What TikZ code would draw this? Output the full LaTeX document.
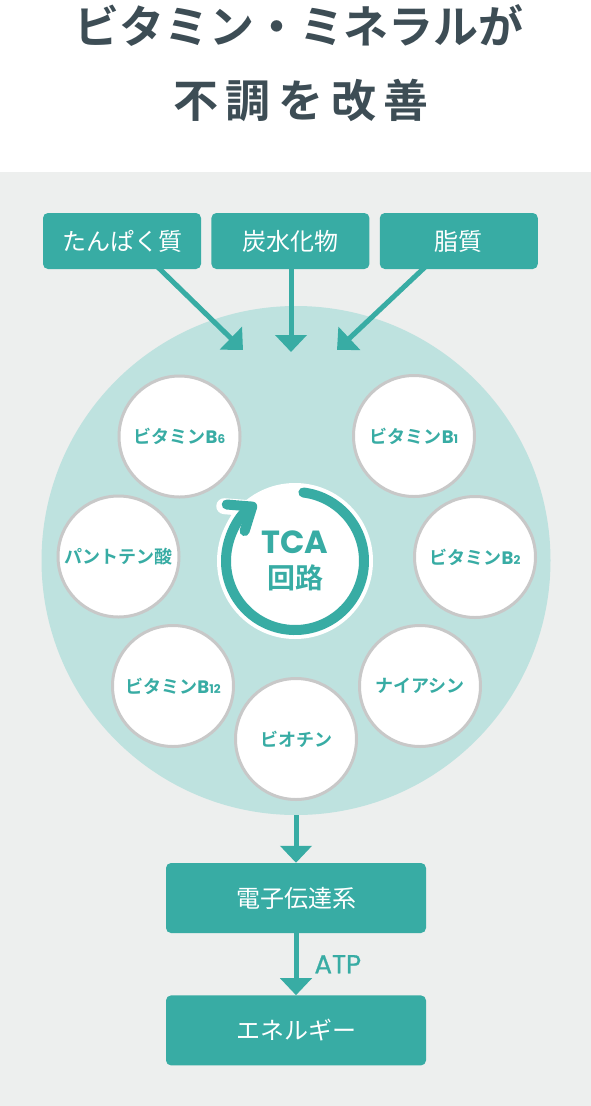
\documentclass[tikz,border=0pt]{standalone}
\usepackage{fontspec}
\setmainfont{Noto Sans CJK JP}[BoldFont={Noto Sans CJK JP Bold}]
\newfontfamily\latin{Poppins}
\usetikzlibrary{arrows.meta,positioning}
\definecolor{Ink}{HTML}{3D4D55}
\definecolor{Teal}{HTML}{38ACA4}
\definecolor{TealLight}{HTML}{BEE2DF}
\definecolor{Paper}{HTML}{EDEFEE}
\definecolor{Rim}{HTML}{C8C8C8}
\newcommand{\vitB}[1]{{\latin\bfseries B\fontsize{12}{12}\selectfont #1}}

\begin{document}
\begin{tikzpicture}[x=1pt,y=1pt,
    node distance=10pt,
    food/.style={rectangle,rounded corners=5pt,fill=Teal,text=white,inner sep=0pt,
      minimum width=158pt,minimum height=56pt,font=\fontsize{24}{28}\selectfont},
    flow/.style={food,minimum width=260pt,minimum height=70pt},
    vit/.style={circle,draw=Rim,line width=3pt,fill=white,minimum size=121pt,
      inner sep=0pt,text=Teal,font=\bfseries\fontsize{18}{20}\selectfont},
    arrow/.style={-{Triangle[width=31pt,length=17pt]},line width=5pt,draw=Teal},
    cyclearc/.style={line cap=round,-{Straight Barb[length=20pt,width=32pt,round]}}
  ]
  \useasboundingbox (0,0) rectangle (591,-1106);
  \fill[white] (0,0) rectangle (591,-1106);
  \fill[Paper] (0,-172) rectangle (591,-1106);

  % title
  \node[text=Ink,font=\bfseries\fontsize{45}{50}\selectfont] (title1) at (299,-25) {ビタミン・ミネラルが};
  \node[text=Ink,font=\bfseries\fontsize{45}{50}\selectfont] (title2) at (301,-100) {不\,調\,を\,改\,善};

  % nutrients
  \node[food] (protein) at (122,-241) {たんぱく質};
  \node[food,right=of protein] (carb) {炭水化物};
  \node[food,right=of carb] (fat) {脂質};

  \node[circle,fill=TealLight,minimum size=509pt,inner sep=0pt] (cycle) at (296,-560.5) {};

  \coordinate (in1) at (243,-350);
  \coordinate (in2) at (291,-352);
  \coordinate (in3) at (337,-350);
  \draw[arrow,shorten <=-4pt] ([xshift=38pt]protein.south) -- (in1);
  \draw[arrow] (carb.south -| in2) -- (in2);
  \draw[arrow,shorten <=-4pt] ([xshift=-36pt]fat.south) -- (in3);

  % TCA cycle
  \node[circle,fill=white,minimum size=156pt,inner sep=0pt,text=Teal,align=center,
    font=\bfseries\fontsize{28}{35}\selectfont] (tca) at (295,-561)
    {{\latin\fontsize{32}{35}\selectfont TCA}\\回路};
  \draw[white,line width=16pt,cyclearc]
    ([shift={(83:69)}]tca.center) arc[start angle=83,end angle=-236,radius=69];
  \draw[Teal,line width=10pt,cyclearc]
    ([shift={(83:69)}]tca.center) arc[start angle=83,end angle=-236,radius=69];

  % vitamins
  \node[vit] (b6) at (179.5,-436.5) {ビタミン\vitB{6}};
  \node[vit] (b1) at (414,-436) {ビタミン\vitB{1}};
  \node[vit] (panto) at (118.5,-556.5) {パントテン酸};
  \node[vit] (b2) at (475,-557) {ビタミン\vitB{2}};
  \node[vit] (b12) at (173,-686) {ビタミン\vitB{12}};
  \node[vit] (niacin) at (420,-686) {ナイアシン};
  \node[vit] (biotin) at (296,-739) {ビオチン};

  % output
  \node[flow] (etc) at (296,-898) {電子伝達系};
  \node[flow,below=62pt of etc] (energy) {エネルギー};
  \draw[arrow] (cycle) -- (etc);
  \draw[arrow] (etc) -- node[right=16pt,inner sep=0pt,text=Teal,
    font=\latin\addfontfeature{FakeBold=0.8}\fontsize{26}{30}\selectfont] (atp) {ATP} (energy);
\end{tikzpicture}
\end{document}
